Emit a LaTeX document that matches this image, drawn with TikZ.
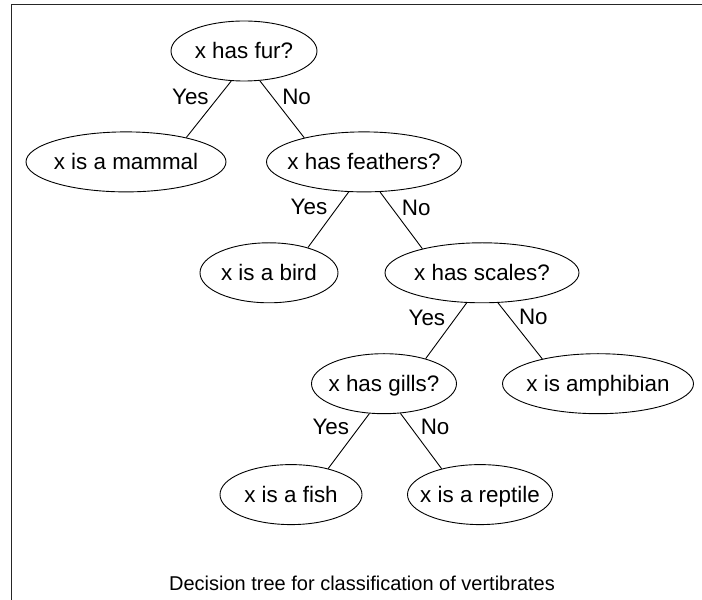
\documentclass[tikz,border=0pt]{standalone}
\usepackage{fontspec}
\setmainfont{Liberation Sans}
\usetikzlibrary{shapes.geometric,positioning}

\begin{document}
\begin{tikzpicture}[x=1pt, y=1pt, line width=0.9pt,
    test/.style={ellipse, draw, minimum height=60pt, inner sep=0pt, text height=16pt, text depth=0pt, font=\fontsize{22.4}{26}\selectfont, execute at begin node={\hbox to 0pt\bgroup\hss}, execute at end node={\hss\egroup}},
    answer/.style={inner sep=1pt, text height=16pt, text depth=0pt, font=\fontsize{22.4}{26}\selectfont}]
    \useasboundingbox (0,0) rectangle (702,600);
    % Frame
    \draw[line width=1.5pt, black!85] (702,595.5) -- (11.5,595.5) -- (11.5,0);

    % Nodes
    \node (fur) [test, minimum width=146pt] at (244,549) {x has fur?};
    \node (mammal) [test, minimum width=200pt, below=50pt of fur, xshift=-118pt] {x is a mammal};
    \node (feathers) [test, minimum width=195pt, below=50pt of fur, xshift=120pt] {x has feathers?};
    \node (bird) [test, minimum width=138pt, below=50pt of feathers, xshift=-95pt] {x is a bird};
    \node (scales) [test, minimum width=194pt, below=50pt of feathers, xshift=118pt] {x has scales?};
    \node (gills) [test, minimum width=145pt, below=50pt of scales, xshift=-98pt] {x has gills?};
    \node (amphibian) [test, minimum width=191pt, below=50pt of scales, xshift=116pt] {x is amphibian};
    \node (fish) [test, minimum width=142pt, below=50pt of gills, xshift=-93pt] {x is a fish};
    \node (reptile) [test, minimum width=145pt, below=50pt of gills, xshift=96pt] {x is a reptile};
    \node (caption) at (362,17) [font=\fontsize{20}{24}\selectfont] {Decision tree for classification of vertibrates};

    % Branches
    \draw (fur.247) -- (mammal.22) node[answer, pos=.27, left=9pt] {Yes};
    \draw (fur.298) -- (feathers.158) node[answer, pos=.27, right=9pt] {No};
    \draw (feathers.243) -- (bird.33) node[answer, pos=.27, left=9pt] {Yes};
    \draw (feathers.298) -- (scales.158) node[answer, pos=.27, right=9pt] {No};
    \draw (scales.243) -- (gills.31) node[answer, pos=.27, left=9pt] {Yes};
    \draw (scales.298) -- (amphibian.156) node[answer, pos=.24, right=9pt] {No};
    \draw (gills.244) -- (fish.35) node[answer, pos=.24, left=9pt] {Yes};
    \draw (gills.299) -- (reptile.146) node[answer, pos=.24, right=9pt] {No};
\end{tikzpicture}
\end{document}
